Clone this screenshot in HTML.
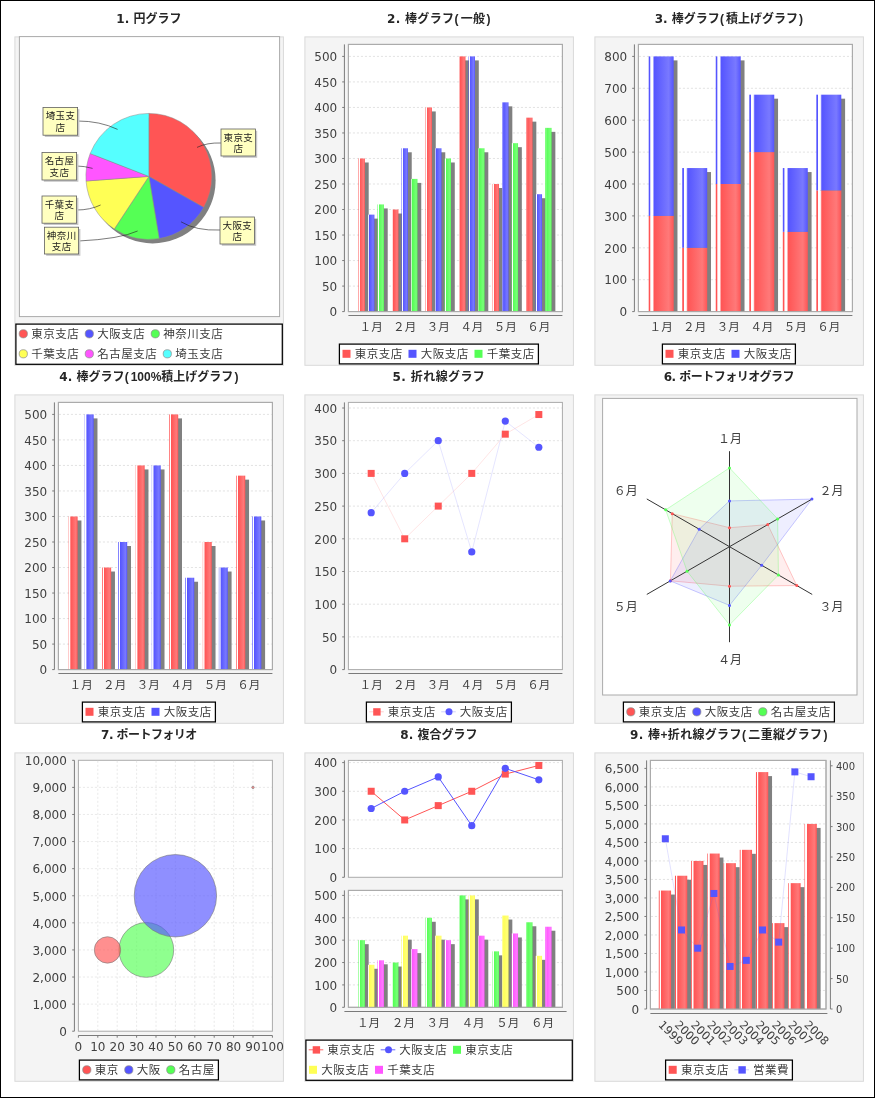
<!DOCTYPE html><html lang="ja"><head><meta charset="utf-8"><title>グラフ</title>
<style>html,body{margin:0;padding:0;background:#fff}svg{display:block}</style></head><body>
<svg width="875" height="1098" viewBox="0 0 875 1098">
<defs>
<linearGradient id="gR" x1="0" y1="0" x2="1" y2="0"><stop offset="0" stop-color="#ff5555"/><stop offset="0.05" stop-color="#ff5555"/><stop offset="0.08" stop-color="#fff"/><stop offset="0.16" stop-color="#fff"/><stop offset="0.22" stop-color="#ff5555"/><stop offset="0.8" stop-color="#ff7979"/><stop offset="1" stop-color="#ff5555"/></linearGradient>
<linearGradient id="gB" x1="0" y1="0" x2="1" y2="0"><stop offset="0" stop-color="#5555ff"/><stop offset="0.05" stop-color="#5555ff"/><stop offset="0.08" stop-color="#fff"/><stop offset="0.16" stop-color="#fff"/><stop offset="0.22" stop-color="#5555ff"/><stop offset="0.8" stop-color="#7979ff"/><stop offset="1" stop-color="#5555ff"/></linearGradient>
<linearGradient id="gG" x1="0" y1="0" x2="1" y2="0"><stop offset="0" stop-color="#55ff55"/><stop offset="0.05" stop-color="#55ff55"/><stop offset="0.08" stop-color="#fff"/><stop offset="0.16" stop-color="#fff"/><stop offset="0.22" stop-color="#55ff55"/><stop offset="0.8" stop-color="#79ff79"/><stop offset="1" stop-color="#55ff55"/></linearGradient>
<linearGradient id="gY" x1="0" y1="0" x2="1" y2="0"><stop offset="0" stop-color="#ffff55"/><stop offset="0.05" stop-color="#ffff55"/><stop offset="0.08" stop-color="#fff"/><stop offset="0.16" stop-color="#fff"/><stop offset="0.22" stop-color="#ffff55"/><stop offset="0.8" stop-color="#ffff79"/><stop offset="1" stop-color="#ffff55"/></linearGradient>
<linearGradient id="gM" x1="0" y1="0" x2="1" y2="0"><stop offset="0" stop-color="#ff55ff"/><stop offset="0.05" stop-color="#ff55ff"/><stop offset="0.08" stop-color="#fff"/><stop offset="0.16" stop-color="#fff"/><stop offset="0.22" stop-color="#ff55ff"/><stop offset="0.8" stop-color="#ff79ff"/><stop offset="1" stop-color="#ff55ff"/></linearGradient>
</defs>
<rect x="0" y="0" width="875" height="1098" fill="#fff"/>
<rect x="14.9" y="36.9" width="268.5" height="328.4" fill="#f4f4f4" stroke="#d9d9d9" stroke-width="1"/>
<text x="148.9" y="23.4" text-anchor="middle" font-family="DejaVu Sans, Noto Sans CJK JP, sans-serif" font-size="12" font-weight="bold" fill="#262626">1. 円グラフ</text>
<rect x="19.4" y="36.6" width="260.2" height="280" fill="#fff" stroke="#aaaaaa" stroke-width="1"/>
<circle cx="152.6" cy="180.4" r="63" fill="#808080"/>
<path d="M148.9 176.4L148.9 113.4A63 63 0 0 1 203.73 207.42Z" fill="#ff5555" stroke="#8a8a8a" stroke-width="0.5"/>
<path d="M148.9 176.4L203.73 207.42A63 63 0 0 1 159.19 238.55Z" fill="#5555ff" stroke="#8a8a8a" stroke-width="0.5"/>
<path d="M148.9 176.4L159.19 238.55A63 63 0 0 1 114.31 229.06Z" fill="#55ff55" stroke="#8a8a8a" stroke-width="0.5"/>
<path d="M148.9 176.4L114.31 229.06A63 63 0 0 1 86.07 181.01Z" fill="#ffff55" stroke="#8a8a8a" stroke-width="0.5"/>
<path d="M148.9 176.4L86.07 181.01A63 63 0 0 1 90.2 153.52Z" fill="#ff55ff" stroke="#8a8a8a" stroke-width="0.5"/>
<path d="M148.9 176.4L90.2 153.52A63 63 0 0 1 148.9 113.4Z" fill="#55ffff" stroke="#8a8a8a" stroke-width="0.5"/>
<path d="M221 143Q207 142.5 197 147.4" fill="none" stroke="#222" stroke-width="0.6"/>
<path d="M220 230Q196 231 181 221.8" fill="none" stroke="#222" stroke-width="0.6"/>
<path d="M78.6 241Q120 239 137.6 231" fill="none" stroke="#222" stroke-width="0.6"/>
<path d="M76.6 210Q90 210 100.6 205" fill="none" stroke="#222" stroke-width="0.6"/>
<path d="M76.6 166Q84 166 92.6 168.4" fill="none" stroke="#222" stroke-width="0.6"/>
<path d="M77.6 121Q100 121 117.6 129.4" fill="none" stroke="#222" stroke-width="0.6"/>
<rect x="222.8" y="130.8" width="34.4" height="27" fill="#c8c8c8"/>
<rect x="221" y="129" width="34.4" height="27" fill="#ffffc0" stroke="#606060" stroke-width="0.8"/>
<text x="238.4" y="140.6" text-anchor="middle" font-family="Liberation Sans, Noto Sans CJK JP, sans-serif" font-size="9.5" letter-spacing="0.4" fill="#1a1a1a">東京支</text>
<text x="238.4" y="152.2" text-anchor="middle" font-family="Liberation Sans, Noto Sans CJK JP, sans-serif" font-size="9.5" letter-spacing="0.4" fill="#1a1a1a">店</text>
<rect x="221.8" y="218.8" width="34.4" height="27" fill="#c8c8c8"/>
<rect x="220" y="217" width="34.4" height="27" fill="#ffffc0" stroke="#606060" stroke-width="0.8"/>
<text x="237.4" y="228.6" text-anchor="middle" font-family="Liberation Sans, Noto Sans CJK JP, sans-serif" font-size="9.5" letter-spacing="0.4" fill="#1a1a1a">大阪支</text>
<text x="237.4" y="240.2" text-anchor="middle" font-family="Liberation Sans, Noto Sans CJK JP, sans-serif" font-size="9.5" letter-spacing="0.4" fill="#1a1a1a">店</text>
<rect x="46.2" y="229" width="34.2" height="26.8" fill="#c8c8c8"/>
<rect x="44.4" y="227.2" width="34.2" height="26.8" fill="#ffffc0" stroke="#606060" stroke-width="0.8"/>
<text x="61.7" y="238.8" text-anchor="middle" font-family="Liberation Sans, Noto Sans CJK JP, sans-serif" font-size="9.5" letter-spacing="0.4" fill="#1a1a1a">神奈川</text>
<text x="61.7" y="250.4" text-anchor="middle" font-family="Liberation Sans, Noto Sans CJK JP, sans-serif" font-size="9.5" letter-spacing="0.4" fill="#1a1a1a">支店</text>
<rect x="43.8" y="197.8" width="34.6" height="27.2" fill="#c8c8c8"/>
<rect x="42" y="196" width="34.6" height="27.2" fill="#ffffc0" stroke="#606060" stroke-width="0.8"/>
<text x="59.5" y="207.6" text-anchor="middle" font-family="Liberation Sans, Noto Sans CJK JP, sans-serif" font-size="9.5" letter-spacing="0.4" fill="#1a1a1a">千葉支</text>
<text x="59.5" y="219.2" text-anchor="middle" font-family="Liberation Sans, Noto Sans CJK JP, sans-serif" font-size="9.5" letter-spacing="0.4" fill="#1a1a1a">店</text>
<rect x="43.8" y="154.2" width="34.6" height="27.6" fill="#c8c8c8"/>
<rect x="42" y="152.4" width="34.6" height="27.6" fill="#ffffc0" stroke="#606060" stroke-width="0.8"/>
<text x="59.5" y="164" text-anchor="middle" font-family="Liberation Sans, Noto Sans CJK JP, sans-serif" font-size="9.5" letter-spacing="0.4" fill="#1a1a1a">名古屋</text>
<text x="59.5" y="175.6" text-anchor="middle" font-family="Liberation Sans, Noto Sans CJK JP, sans-serif" font-size="9.5" letter-spacing="0.4" fill="#1a1a1a">支店</text>
<rect x="44.8" y="109.2" width="34.6" height="27.8" fill="#c8c8c8"/>
<rect x="43" y="107.4" width="34.6" height="27.8" fill="#ffffc0" stroke="#606060" stroke-width="0.8"/>
<text x="60.5" y="119" text-anchor="middle" font-family="Liberation Sans, Noto Sans CJK JP, sans-serif" font-size="9.5" letter-spacing="0.4" fill="#1a1a1a">埼玉支</text>
<text x="60.5" y="130.6" text-anchor="middle" font-family="Liberation Sans, Noto Sans CJK JP, sans-serif" font-size="9.5" letter-spacing="0.4" fill="#1a1a1a">店</text>
<rect x="15.9" y="324.1" width="266.4" height="40.2" fill="#fff" stroke="#000" stroke-width="1.25"/>
<circle cx="23.3" cy="333.8" r="4.1" fill="#ff5555" stroke="#8a8a8a" stroke-width="0.7"/>
<text x="31.3" y="338.2" font-family="Liberation Sans, Noto Sans CJK JP, sans-serif" font-size="11.5" letter-spacing="0.5" fill="#3a3a3a">東京支店</text>
<circle cx="89.3" cy="333.8" r="4.1" fill="#5555ff" stroke="#8a8a8a" stroke-width="0.7"/>
<text x="97.3" y="338.2" font-family="Liberation Sans, Noto Sans CJK JP, sans-serif" font-size="11.5" letter-spacing="0.5" fill="#3a3a3a">大阪支店</text>
<circle cx="155.3" cy="333.8" r="4.1" fill="#55ff55" stroke="#8a8a8a" stroke-width="0.7"/>
<text x="163.3" y="338.2" font-family="Liberation Sans, Noto Sans CJK JP, sans-serif" font-size="11.5" letter-spacing="0.5" fill="#3a3a3a">神奈川支店</text>
<circle cx="23.3" cy="353.8" r="4.1" fill="#ffff55" stroke="#8a8a8a" stroke-width="0.7"/>
<text x="31.3" y="358.2" font-family="Liberation Sans, Noto Sans CJK JP, sans-serif" font-size="11.5" letter-spacing="0.5" fill="#3a3a3a">千葉支店</text>
<circle cx="89.3" cy="353.8" r="4.1" fill="#ff55ff" stroke="#8a8a8a" stroke-width="0.7"/>
<text x="97.3" y="358.2" font-family="Liberation Sans, Noto Sans CJK JP, sans-serif" font-size="11.5" letter-spacing="0.5" fill="#3a3a3a">名古屋支店</text>
<circle cx="167.3" cy="353.8" r="4.1" fill="#55ffff" stroke="#8a8a8a" stroke-width="0.7"/>
<text x="175.3" y="358.2" font-family="Liberation Sans, Noto Sans CJK JP, sans-serif" font-size="11.5" letter-spacing="0.5" fill="#3a3a3a">埼玉支店</text>
<rect x="304.9" y="36.9" width="268.5" height="328.4" fill="#f4f4f4" stroke="#d9d9d9" stroke-width="1"/>
<text x="438.9" y="23.4" text-anchor="middle" font-family="DejaVu Sans, Noto Sans CJK JP, sans-serif" font-size="12" font-weight="bold" fill="#262626" letter-spacing="0.3">2. 棒グラフ<tspan dx="0.3" font-family="Liberation Sans, sans-serif">(</tspan><tspan dx="1.9">一</tspan>般<tspan dx="1.1" font-family="Liberation Sans, sans-serif">)</tspan></text>
<rect x="348.4" y="44.4" width="214" height="267.2" fill="#fff" stroke="#aaaaaa" stroke-width="1"/>
<path d="M348.9 286.08H561.9M348.9 260.56H561.9M348.9 235.04H561.9M348.9 209.52H561.9M348.9 184H561.9M348.9 158.48H561.9M348.9 132.96H561.9M348.9 107.44H561.9M348.9 81.92H561.9M348.9 56.4H561.9" stroke="#dcdcdc" stroke-width="0.8" stroke-dasharray="2.1 1.9" fill="none"/>
<rect x="362.3" y="162.48" width="6.4" height="149.12" fill="#808080"/>
<rect x="358.5" y="158.48" width="6.4" height="153.12" fill="url(#gR)"/>
<rect x="371.81" y="218.62" width="6.4" height="92.98" fill="#808080"/>
<rect x="368.01" y="214.62" width="6.4" height="96.98" fill="url(#gB)"/>
<rect x="381.32" y="208.42" width="6.4" height="103.18" fill="#808080"/>
<rect x="377.52" y="204.42" width="6.4" height="107.18" fill="url(#gG)"/>
<rect x="395.83" y="213.52" width="6.4" height="98.08" fill="#808080"/>
<rect x="392.03" y="209.52" width="6.4" height="102.08" fill="url(#gR)"/>
<rect x="405.34" y="152.27" width="6.4" height="159.33" fill="#808080"/>
<rect x="401.54" y="148.27" width="6.4" height="163.33" fill="url(#gB)"/>
<rect x="414.85" y="182.9" width="6.4" height="128.7" fill="#808080"/>
<rect x="411.05" y="178.9" width="6.4" height="132.7" fill="url(#gG)"/>
<rect x="429.35" y="111.44" width="6.4" height="200.16" fill="#808080"/>
<rect x="425.55" y="107.44" width="6.4" height="204.16" fill="url(#gR)"/>
<rect x="438.86" y="152.27" width="6.4" height="159.33" fill="#808080"/>
<rect x="435.06" y="148.27" width="6.4" height="163.33" fill="url(#gB)"/>
<rect x="448.38" y="162.48" width="6.4" height="149.12" fill="#808080"/>
<rect x="444.58" y="158.48" width="6.4" height="153.12" fill="url(#gG)"/>
<rect x="462.88" y="60.4" width="6.4" height="251.2" fill="#808080"/>
<rect x="459.08" y="56.4" width="6.4" height="255.2" fill="url(#gR)"/>
<rect x="472.39" y="60.4" width="6.4" height="251.2" fill="#808080"/>
<rect x="468.59" y="56.4" width="6.4" height="255.2" fill="url(#gB)"/>
<rect x="481.9" y="152.27" width="6.4" height="159.33" fill="#808080"/>
<rect x="478.1" y="148.27" width="6.4" height="163.33" fill="url(#gG)"/>
<rect x="496.41" y="188" width="6.4" height="123.6" fill="#808080"/>
<rect x="492.61" y="184" width="6.4" height="127.6" fill="url(#gR)"/>
<rect x="505.92" y="106.34" width="6.4" height="205.26" fill="#808080"/>
<rect x="502.12" y="102.34" width="6.4" height="209.26" fill="url(#gB)"/>
<rect x="515.43" y="147.17" width="6.4" height="164.43" fill="#808080"/>
<rect x="511.63" y="143.17" width="6.4" height="168.43" fill="url(#gG)"/>
<rect x="529.93" y="121.65" width="6.4" height="189.95" fill="#808080"/>
<rect x="526.13" y="117.65" width="6.4" height="193.95" fill="url(#gR)"/>
<rect x="539.44" y="198.21" width="6.4" height="113.39" fill="#808080"/>
<rect x="535.64" y="194.21" width="6.4" height="117.39" fill="url(#gB)"/>
<rect x="548.96" y="131.86" width="6.4" height="179.74" fill="#808080"/>
<rect x="545.16" y="127.86" width="6.4" height="183.74" fill="url(#gG)"/>
<rect x="348.4" y="44.4" width="214" height="267.2" fill="none" stroke="#aaaaaa" stroke-width="1"/>
<path d="M344.4 44.4V311.6M344.4 311.6H342.2M344.4 286.08H342.2M344.4 260.56H342.2M344.4 235.04H342.2M344.4 209.52H342.2M344.4 184H342.2M344.4 158.48H342.2M344.4 132.96H342.2M344.4 107.44H342.2M344.4 81.92H342.2M344.4 56.4H342.2" stroke="#7a7a7a" stroke-width="1" fill="none"/>
<g font-family="DejaVu Sans, Liberation Sans, sans-serif" font-size="12" fill="#404040" text-anchor="end">
<text x="337.2" y="316.38">0</text>
<text x="337.2" y="290.86">50</text>
<text x="337.2" y="265.34">100</text>
<text x="337.2" y="239.82">150</text>
<text x="337.2" y="214.3">200</text>
<text x="337.2" y="188.78">250</text>
<text x="337.2" y="163.26">300</text>
<text x="337.2" y="137.74">350</text>
<text x="337.2" y="112.22">400</text>
<text x="337.2" y="86.7">450</text>
<text x="337.2" y="61.18">500</text>
</g>
<path d="M348.4 315.5H562.4" stroke="#7a7a7a" stroke-width="1" fill="none"/>
<g font-family="Liberation Sans, Noto Sans CJK JP, sans-serif" font-size="11.6" fill="#404040" text-anchor="middle">
<text x="371.18" y="330.8">１月</text>
<text x="404.71" y="330.8">２月</text>
<text x="438.24" y="330.8">３月</text>
<text x="471.76" y="330.8">４月</text>
<text x="505.29" y="330.8">５月</text>
<text x="538.82" y="330.8">６月</text>
</g>
<rect x="339.4" y="344.1" width="199" height="19.8" fill="#fff" stroke="#000" stroke-width="1.25"/>
<rect x="342.5" y="349.8" width="8" height="8" fill="#ff5555"/>
<text x="354.8" y="358.2" font-family="Liberation Sans, Noto Sans CJK JP, sans-serif" font-size="11.5" letter-spacing="0.5" fill="#3a3a3a">東京支店</text>
<rect x="408.5" y="349.8" width="8" height="8" fill="#5555ff"/>
<text x="420.8" y="358.2" font-family="Liberation Sans, Noto Sans CJK JP, sans-serif" font-size="11.5" letter-spacing="0.5" fill="#3a3a3a">大阪支店</text>
<rect x="474.5" y="349.8" width="8" height="8" fill="#55ff55"/>
<text x="486.8" y="358.2" font-family="Liberation Sans, Noto Sans CJK JP, sans-serif" font-size="11.5" letter-spacing="0.5" fill="#3a3a3a">千葉支店</text>
<rect x="594.9" y="36.9" width="268.5" height="328.4" fill="#f4f4f4" stroke="#d9d9d9" stroke-width="1"/>
<text x="728.9" y="23.4" text-anchor="middle" font-family="DejaVu Sans, Noto Sans CJK JP, sans-serif" font-size="12" font-weight="bold" fill="#262626">3. 棒グラフ<tspan dx="0.3" font-family="Liberation Sans, sans-serif">(</tspan><tspan dx="1.9">積</tspan>上げグラフ<tspan dx="1.1" font-family="Liberation Sans, sans-serif">)</tspan></text>
<rect x="638.4" y="44.4" width="214" height="267.2" fill="#fff" stroke="#aaaaaa" stroke-width="1"/>
<path d="M638.9 279.7H851.9M638.9 247.8H851.9M638.9 215.9H851.9M638.9 184H851.9M638.9 152.1H851.9M638.9 120.2H851.9M638.9 88.3H851.9M638.9 56.4H851.9" stroke="#dcdcdc" stroke-width="0.8" stroke-dasharray="2.1 1.9" fill="none"/>
<rect x="652.5" y="60.4" width="24.97" height="251.2" fill="#808080"/>
<rect x="648.7" y="215.9" width="24.97" height="95.7" fill="url(#gR)"/>
<rect x="648.7" y="56.4" width="24.97" height="159.5" fill="url(#gB)"/>
<rect x="686.03" y="172.05" width="24.97" height="139.55" fill="#808080"/>
<rect x="682.23" y="247.8" width="24.97" height="63.8" fill="url(#gR)"/>
<rect x="682.23" y="168.05" width="24.97" height="79.75" fill="url(#gB)"/>
<rect x="719.55" y="60.4" width="24.97" height="251.2" fill="#808080"/>
<rect x="715.75" y="184" width="24.97" height="127.6" fill="url(#gR)"/>
<rect x="715.75" y="56.4" width="24.97" height="127.6" fill="url(#gB)"/>
<rect x="753.08" y="98.68" width="24.97" height="212.92" fill="#808080"/>
<rect x="749.28" y="152.1" width="24.97" height="159.5" fill="url(#gR)"/>
<rect x="749.28" y="94.68" width="24.97" height="57.42" fill="url(#gB)"/>
<rect x="786.61" y="172.05" width="24.97" height="139.55" fill="#808080"/>
<rect x="782.81" y="231.85" width="24.97" height="79.75" fill="url(#gR)"/>
<rect x="782.81" y="168.05" width="24.97" height="63.8" fill="url(#gB)"/>
<rect x="820.13" y="98.68" width="24.97" height="212.92" fill="#808080"/>
<rect x="816.33" y="190.38" width="24.97" height="121.22" fill="url(#gR)"/>
<rect x="816.33" y="94.68" width="24.97" height="95.7" fill="url(#gB)"/>
<rect x="638.4" y="44.4" width="214" height="267.2" fill="none" stroke="#aaaaaa" stroke-width="1"/>
<path d="M634.4 44.4V311.6M634.4 311.6H632.2M634.4 279.7H632.2M634.4 247.8H632.2M634.4 215.9H632.2M634.4 184H632.2M634.4 152.1H632.2M634.4 120.2H632.2M634.4 88.3H632.2M634.4 56.4H632.2" stroke="#7a7a7a" stroke-width="1" fill="none"/>
<g font-family="DejaVu Sans, Liberation Sans, sans-serif" font-size="12" fill="#404040" text-anchor="end">
<text x="627.2" y="316.38">0</text>
<text x="627.2" y="284.48">100</text>
<text x="627.2" y="252.58">200</text>
<text x="627.2" y="220.68">300</text>
<text x="627.2" y="188.78">400</text>
<text x="627.2" y="156.88">500</text>
<text x="627.2" y="124.98">600</text>
<text x="627.2" y="93.08">700</text>
<text x="627.2" y="61.18">800</text>
</g>
<path d="M638.4 315.5H852.4" stroke="#7a7a7a" stroke-width="1" fill="none"/>
<g font-family="Liberation Sans, Noto Sans CJK JP, sans-serif" font-size="11.6" fill="#404040" text-anchor="middle">
<text x="661.18" y="330.8">１月</text>
<text x="694.71" y="330.8">２月</text>
<text x="728.24" y="330.8">３月</text>
<text x="761.76" y="330.8">４月</text>
<text x="795.29" y="330.8">５月</text>
<text x="828.82" y="330.8">６月</text>
</g>
<rect x="662.4" y="344.1" width="133" height="19.8" fill="#fff" stroke="#000" stroke-width="1.25"/>
<rect x="665.5" y="349.8" width="8" height="8" fill="#ff5555"/>
<text x="677.8" y="358.2" font-family="Liberation Sans, Noto Sans CJK JP, sans-serif" font-size="11.5" letter-spacing="0.5" fill="#3a3a3a">東京支店</text>
<rect x="731.5" y="349.8" width="8" height="8" fill="#5555ff"/>
<text x="743.8" y="358.2" font-family="Liberation Sans, Noto Sans CJK JP, sans-serif" font-size="11.5" letter-spacing="0.5" fill="#3a3a3a">大阪支店</text>
<rect x="14.9" y="394.9" width="268.5" height="328.4" fill="#f4f4f4" stroke="#d9d9d9" stroke-width="1"/>
<text x="148.9" y="381.4" text-anchor="middle" font-family="DejaVu Sans, Noto Sans CJK JP, sans-serif" font-size="12" font-weight="bold" fill="#262626">4. 棒グラフ<tspan dx="0.3" font-family="Liberation Sans, sans-serif">(</tspan><tspan dx="1.9" font-family="Liberation Sans, sans-serif">100%</tspan>積上げグラフ<tspan dx="1.1" font-family="Liberation Sans, sans-serif">)</tspan></text>
<rect x="58.4" y="402.4" width="214" height="267.2" fill="#fff" stroke="#aaaaaa" stroke-width="1"/>
<path d="M58.9 644.08H271.9M58.9 618.56H271.9M58.9 593.04H271.9M58.9 567.52H271.9M58.9 542H271.9M58.9 516.48H271.9M58.9 490.96H271.9M58.9 465.44H271.9M58.9 439.92H271.9M58.9 414.4H271.9" stroke="#dcdcdc" stroke-width="0.8" stroke-dasharray="2.1 1.9" fill="none"/>
<rect x="72.5" y="520.48" width="8.92" height="149.12" fill="#808080"/>
<rect x="68.7" y="516.48" width="8.92" height="153.12" fill="url(#gR)"/>
<rect x="88.55" y="418.4" width="8.92" height="251.2" fill="#808080"/>
<rect x="84.75" y="414.4" width="8.92" height="255.2" fill="url(#gB)"/>
<rect x="106.03" y="571.52" width="8.92" height="98.08" fill="#808080"/>
<rect x="102.23" y="567.52" width="8.92" height="102.08" fill="url(#gR)"/>
<rect x="122.08" y="546" width="8.92" height="123.6" fill="#808080"/>
<rect x="118.28" y="542" width="8.92" height="127.6" fill="url(#gB)"/>
<rect x="139.55" y="469.44" width="8.92" height="200.16" fill="#808080"/>
<rect x="135.75" y="465.44" width="8.92" height="204.16" fill="url(#gR)"/>
<rect x="155.6" y="469.44" width="8.92" height="200.16" fill="#808080"/>
<rect x="151.8" y="465.44" width="8.92" height="204.16" fill="url(#gB)"/>
<rect x="173.08" y="418.4" width="8.92" height="251.2" fill="#808080"/>
<rect x="169.28" y="414.4" width="8.92" height="255.2" fill="url(#gR)"/>
<rect x="189.13" y="581.73" width="8.92" height="87.87" fill="#808080"/>
<rect x="185.33" y="577.73" width="8.92" height="91.87" fill="url(#gB)"/>
<rect x="206.61" y="546" width="8.92" height="123.6" fill="#808080"/>
<rect x="202.81" y="542" width="8.92" height="127.6" fill="url(#gR)"/>
<rect x="222.66" y="571.52" width="8.92" height="98.08" fill="#808080"/>
<rect x="218.86" y="567.52" width="8.92" height="102.08" fill="url(#gB)"/>
<rect x="240.13" y="479.65" width="8.92" height="189.95" fill="#808080"/>
<rect x="236.33" y="475.65" width="8.92" height="193.95" fill="url(#gR)"/>
<rect x="256.18" y="520.48" width="8.92" height="149.12" fill="#808080"/>
<rect x="252.38" y="516.48" width="8.92" height="153.12" fill="url(#gB)"/>
<rect x="58.4" y="402.4" width="214" height="267.2" fill="none" stroke="#aaaaaa" stroke-width="1"/>
<path d="M54.4 402.4V669.6M54.4 669.6H52.2M54.4 644.08H52.2M54.4 618.56H52.2M54.4 593.04H52.2M54.4 567.52H52.2M54.4 542H52.2M54.4 516.48H52.2M54.4 490.96H52.2M54.4 465.44H52.2M54.4 439.92H52.2M54.4 414.4H52.2" stroke="#7a7a7a" stroke-width="1" fill="none"/>
<g font-family="DejaVu Sans, Liberation Sans, sans-serif" font-size="12" fill="#404040" text-anchor="end">
<text x="47.2" y="674.38">0</text>
<text x="47.2" y="648.86">50</text>
<text x="47.2" y="623.34">100</text>
<text x="47.2" y="597.82">150</text>
<text x="47.2" y="572.3">200</text>
<text x="47.2" y="546.78">250</text>
<text x="47.2" y="521.26">300</text>
<text x="47.2" y="495.74">350</text>
<text x="47.2" y="470.22">400</text>
<text x="47.2" y="444.7">450</text>
<text x="47.2" y="419.18">500</text>
</g>
<path d="M58.4 673.5H272.4" stroke="#7a7a7a" stroke-width="1" fill="none"/>
<g font-family="Liberation Sans, Noto Sans CJK JP, sans-serif" font-size="11.6" fill="#404040" text-anchor="middle">
<text x="81.18" y="688.8">１月</text>
<text x="114.71" y="688.8">２月</text>
<text x="148.24" y="688.8">３月</text>
<text x="181.76" y="688.8">４月</text>
<text x="215.29" y="688.8">５月</text>
<text x="248.82" y="688.8">６月</text>
</g>
<rect x="82.4" y="702.1" width="133" height="19.8" fill="#fff" stroke="#000" stroke-width="1.25"/>
<rect x="85.5" y="707.8" width="8" height="8" fill="#ff5555"/>
<text x="97.8" y="716.2" font-family="Liberation Sans, Noto Sans CJK JP, sans-serif" font-size="11.5" letter-spacing="0.5" fill="#3a3a3a">東京支店</text>
<rect x="151.5" y="707.8" width="8" height="8" fill="#5555ff"/>
<text x="163.8" y="716.2" font-family="Liberation Sans, Noto Sans CJK JP, sans-serif" font-size="11.5" letter-spacing="0.5" fill="#3a3a3a">大阪支店</text>
<rect x="304.9" y="394.9" width="268.5" height="328.4" fill="#f4f4f4" stroke="#d9d9d9" stroke-width="1"/>
<text x="438.9" y="381.4" text-anchor="middle" font-family="DejaVu Sans, Noto Sans CJK JP, sans-serif" font-size="12" font-weight="bold" fill="#262626" letter-spacing="0.4">5. 折れ線グラフ</text>
<rect x="348.4" y="402.4" width="214" height="267.2" fill="#fff" stroke="#aaaaaa" stroke-width="1"/>
<path d="M348.9 636.9H561.9M348.9 604.2H561.9M348.9 571.5H561.9M348.9 538.8H561.9M348.9 506.1H561.9M348.9 473.4H561.9M348.9 440.7H561.9M348.9 408H561.9" stroke="#dcdcdc" stroke-width="0.8" stroke-dasharray="2.1 1.9" fill="none"/>
<polyline points="371.18,473.4 404.71,538.8 438.24,506.1 471.76,473.4 505.29,434.16 538.82,414.54" fill="none" stroke="#ff5555" stroke-width="0.7" opacity="0.22"/>
<polyline points="371.18,512.64 404.71,473.4 438.24,440.7 471.76,551.88 505.29,421.08 538.82,447.24" fill="none" stroke="#5555ff" stroke-width="0.7" opacity="0.22"/>
<rect x="367.68" y="469.9" width="7" height="7" fill="#ff5555"/>
<rect x="401.21" y="535.3" width="7" height="7" fill="#ff5555"/>
<rect x="434.74" y="502.6" width="7" height="7" fill="#ff5555"/>
<rect x="468.26" y="469.9" width="7" height="7" fill="#ff5555"/>
<rect x="501.79" y="430.66" width="7" height="7" fill="#ff5555"/>
<rect x="535.32" y="411.04" width="7" height="7" fill="#ff5555"/>
<circle cx="371.18" cy="512.64" r="3.6" fill="#5555ff"/>
<circle cx="404.71" cy="473.4" r="3.6" fill="#5555ff"/>
<circle cx="438.24" cy="440.7" r="3.6" fill="#5555ff"/>
<circle cx="471.76" cy="551.88" r="3.6" fill="#5555ff"/>
<circle cx="505.29" cy="421.08" r="3.6" fill="#5555ff"/>
<circle cx="538.82" cy="447.24" r="3.6" fill="#5555ff"/>
<path d="M344.4 402.4V669.6M344.4 669.6H342.2M344.4 636.9H342.2M344.4 604.2H342.2M344.4 571.5H342.2M344.4 538.8H342.2M344.4 506.1H342.2M344.4 473.4H342.2M344.4 440.7H342.2M344.4 408H342.2" stroke="#7a7a7a" stroke-width="1" fill="none"/>
<g font-family="DejaVu Sans, Liberation Sans, sans-serif" font-size="12" fill="#404040" text-anchor="end">
<text x="337.2" y="674.38">0</text>
<text x="337.2" y="641.68">50</text>
<text x="337.2" y="608.98">100</text>
<text x="337.2" y="576.28">150</text>
<text x="337.2" y="543.58">200</text>
<text x="337.2" y="510.88">250</text>
<text x="337.2" y="478.18">300</text>
<text x="337.2" y="445.48">350</text>
<text x="337.2" y="412.78">400</text>
</g>
<path d="M348.4 673.5H562.4" stroke="#7a7a7a" stroke-width="1" fill="none"/>
<g font-family="Liberation Sans, Noto Sans CJK JP, sans-serif" font-size="11.6" fill="#404040" text-anchor="middle">
<text x="371.18" y="688.8">１月</text>
<text x="404.71" y="688.8">２月</text>
<text x="438.24" y="688.8">３月</text>
<text x="471.76" y="688.8">４月</text>
<text x="505.29" y="688.8">５月</text>
<text x="538.82" y="688.8">６月</text>
</g>
<rect x="366.4" y="702.1" width="145" height="19.8" fill="#fff" stroke="#000" stroke-width="1.25"/>
<path d="M369.2 711.8H383.8" stroke="#ff5555" stroke-width="0.8" opacity="0.35"/>
<rect x="373.2" y="708.2" width="7.4" height="7.4" fill="#ff5555"/>
<text x="387.8" y="716.2" font-family="Liberation Sans, Noto Sans CJK JP, sans-serif" font-size="11.5" letter-spacing="0.5" fill="#3a3a3a">東京支店</text>
<path d="M441.2 711.8H455.8" stroke="#5555ff" stroke-width="0.8" opacity="0.35"/>
<circle cx="449" cy="711.8" r="3.5" fill="#5555ff"/>
<text x="459.8" y="716.2" font-family="Liberation Sans, Noto Sans CJK JP, sans-serif" font-size="11.5" letter-spacing="0.5" fill="#3a3a3a">大阪支店</text>
<rect x="594.9" y="394.9" width="268.5" height="328.4" fill="#f4f4f4" stroke="#d9d9d9" stroke-width="1"/>
<text x="728.9" y="381.4" text-anchor="middle" font-family="DejaVu Sans, Noto Sans CJK JP, sans-serif" font-size="12" font-weight="bold" fill="#262626" letter-spacing="-0.5">6. ポートフォリオグラフ</text>
<rect x="602.6" y="398.4" width="254.4" height="296.6" fill="#fff" stroke="#aaaaaa" stroke-width="1"/>
<polygon points="729.5,527.7 767.78,524.6 796.79,585.55 729.5,586.2 670.44,580.8 672.26,513.65" fill="#ff5555" fill-opacity="0.1" stroke="#ff5555" stroke-opacity="0.45" stroke-width="0.7"/>
<polygon points="729.5,500.9 811.95,499.1 761.72,565.3 729.5,605.4 670.26,580.9 699.19,529.2" fill="#5555ff" fill-opacity="0.1" stroke="#5555ff" stroke-opacity="0.45" stroke-width="0.7"/>
<polygon points="729.5,467.9 777.65,518.9 778.43,574.95 729.5,624.9 687.06,571.2 665.67,509.85" fill="#55ff55" fill-opacity="0.1" stroke="#55ff55" stroke-opacity="0.45" stroke-width="0.7"/>
<path d="M729.5 546.7L729.5 451.2M729.5 546.7L812.21 498.95M729.5 546.7L812.21 594.45M729.5 546.7L729.5 642.2M729.5 546.7L646.79 594.45M729.5 546.7L646.79 498.95" stroke="#333" stroke-width="1" fill="none"/>
<circle cx="729.5" cy="527.7" r="1.5" fill="#ff5555"/>
<circle cx="767.78" cy="524.6" r="1.5" fill="#ff5555"/>
<circle cx="796.79" cy="585.55" r="1.5" fill="#ff5555"/>
<circle cx="729.5" cy="586.2" r="1.5" fill="#ff5555"/>
<circle cx="670.44" cy="580.8" r="1.5" fill="#ff5555"/>
<circle cx="672.26" cy="513.65" r="1.5" fill="#ff5555"/>
<circle cx="729.5" cy="500.9" r="1.5" fill="#5555ff"/>
<circle cx="811.95" cy="499.1" r="1.5" fill="#5555ff"/>
<circle cx="761.72" cy="565.3" r="1.5" fill="#5555ff"/>
<circle cx="729.5" cy="605.4" r="1.5" fill="#5555ff"/>
<circle cx="670.26" cy="580.9" r="1.5" fill="#5555ff"/>
<circle cx="699.19" cy="529.2" r="1.5" fill="#5555ff"/>
<circle cx="729.5" cy="467.9" r="1.5" fill="#55ff55"/>
<circle cx="777.65" cy="518.9" r="1.5" fill="#55ff55"/>
<circle cx="778.43" cy="574.95" r="1.5" fill="#55ff55"/>
<circle cx="729.5" cy="624.9" r="1.5" fill="#55ff55"/>
<circle cx="687.06" cy="571.2" r="1.5" fill="#55ff55"/>
<circle cx="665.67" cy="509.85" r="1.5" fill="#55ff55"/>
<g font-family="Liberation Sans, Noto Sans CJK JP, sans-serif" font-size="12" fill="#404040">
<text x="730" y="443.2" text-anchor="middle">１月</text>
<text x="831.4" y="495.4" text-anchor="middle">２月</text>
<text x="831.4" y="611.2" text-anchor="middle">３月</text>
<text x="730" y="663.8" text-anchor="middle">４月</text>
<text x="625.8" y="611.2" text-anchor="middle">５月</text>
<text x="625.8" y="495.4" text-anchor="middle">６月</text>
</g>
<rect x="623.4" y="702.1" width="211" height="19.8" fill="#fff" stroke="#000" stroke-width="1.25"/>
<circle cx="630.8" cy="711.8" r="4.1" fill="#ff5555" stroke="#8a8a8a" stroke-width="0.7"/>
<text x="638.8" y="716.2" font-family="Liberation Sans, Noto Sans CJK JP, sans-serif" font-size="11.5" letter-spacing="0.5" fill="#3a3a3a">東京支店</text>
<circle cx="696.8" cy="711.8" r="4.1" fill="#5555ff" stroke="#8a8a8a" stroke-width="0.7"/>
<text x="704.8" y="716.2" font-family="Liberation Sans, Noto Sans CJK JP, sans-serif" font-size="11.5" letter-spacing="0.5" fill="#3a3a3a">大阪支店</text>
<circle cx="762.8" cy="711.8" r="4.1" fill="#55ff55" stroke="#8a8a8a" stroke-width="0.7"/>
<text x="770.8" y="716.2" font-family="Liberation Sans, Noto Sans CJK JP, sans-serif" font-size="11.5" letter-spacing="0.5" fill="#3a3a3a">名古屋支店</text>
<rect x="14.9" y="752.9" width="268.5" height="328.4" fill="#f4f4f4" stroke="#d9d9d9" stroke-width="1"/>
<text x="148.9" y="739.4" text-anchor="middle" font-family="DejaVu Sans, Noto Sans CJK JP, sans-serif" font-size="12" font-weight="bold" fill="#262626" letter-spacing="-0.55">7. ポートフォリオ</text>
<rect x="78.4" y="760.3" width="194" height="270.9" fill="#fff" stroke="#aaaaaa" stroke-width="1"/>
<path d="M78.9 1004.11H271.9M78.9 977.02H271.9M78.9 949.93H271.9M78.9 922.84H271.9M78.9 895.75H271.9M78.9 868.66H271.9M78.9 841.57H271.9M78.9 814.48H271.9M78.9 787.39H271.9" stroke="#e4e4e4" stroke-width="0.8" stroke-dasharray="2.1 1.9" fill="none"/>
<path d="M97.8 760.8V1030.7M117.2 760.8V1030.7M136.6 760.8V1030.7M156 760.8V1030.7M175.4 760.8V1030.7M194.8 760.8V1030.7M214.2 760.8V1030.7M233.6 760.8V1030.7M253 760.8V1030.7" stroke="#e4e4e4" stroke-width="0.8" stroke-dasharray="2.1 1.9" fill="none"/>
<circle cx="146.3" cy="949.93" r="27.4" fill="#55ff55" fill-opacity="0.66" stroke="#777" stroke-width="0.6"/>
<circle cx="175.4" cy="895.75" r="41.2" fill="#5555ff" fill-opacity="0.66" stroke="#777" stroke-width="0.6"/>
<circle cx="107.5" cy="949.93" r="13.2" fill="#ff5555" fill-opacity="0.66" stroke="#777" stroke-width="0.6"/>
<circle cx="253" cy="787.39" r="1.2" fill="#ff5555" fill-opacity="0.66" stroke="#777" stroke-width="0.6"/>
<path d="M74.4 760.3V1031.2M74.4 1031.2H72.2M74.4 1004.11H72.2M74.4 977.02H72.2M74.4 949.93H72.2M74.4 922.84H72.2M74.4 895.75H72.2M74.4 868.66H72.2M74.4 841.57H72.2M74.4 814.48H72.2M74.4 787.39H72.2M74.4 760.3H72.2" stroke="#7a7a7a" stroke-width="1" fill="none"/>
<g font-family="DejaVu Sans, Liberation Sans, sans-serif" font-size="12" fill="#404040" text-anchor="end">
<text x="66.8" y="1035.98">0</text>
<text x="66.8" y="1008.89">1,000</text>
<text x="66.8" y="981.8">2,000</text>
<text x="66.8" y="954.71">3,000</text>
<text x="66.8" y="927.62">4,000</text>
<text x="66.8" y="900.53">5,000</text>
<text x="66.8" y="873.44">6,000</text>
<text x="66.8" y="846.35">7,000</text>
<text x="66.8" y="819.26">8,000</text>
<text x="66.8" y="792.17">9,000</text>
<text x="66.8" y="765.08">10,000</text>
</g>
<path d="M78.4 1035.5H272.4M78.4 1035.5V1037.7M97.8 1035.5V1037.7M117.2 1035.5V1037.7M136.6 1035.5V1037.7M156 1035.5V1037.7M175.4 1035.5V1037.7M194.8 1035.5V1037.7M214.2 1035.5V1037.7M233.6 1035.5V1037.7M253 1035.5V1037.7M272.4 1035.5V1037.7" stroke="#7a7a7a" stroke-width="1" fill="none"/>
<g font-family="DejaVu Sans, Liberation Sans, sans-serif" font-size="12" fill="#404040" text-anchor="middle">
<text x="78.4" y="1051">0</text>
<text x="97.8" y="1051">10</text>
<text x="117.2" y="1051">20</text>
<text x="136.6" y="1051">30</text>
<text x="156" y="1051">40</text>
<text x="175.4" y="1051">50</text>
<text x="194.8" y="1051">60</text>
<text x="214.2" y="1051">70</text>
<text x="233.6" y="1051">80</text>
<text x="253" y="1051">90</text>
<text x="272.4" y="1051">100</text>
</g>
<rect x="79.4" y="1060.1" width="139" height="19.8" fill="#fff" stroke="#000" stroke-width="1.25"/>
<circle cx="86.8" cy="1069.8" r="4.1" fill="#ff5555" stroke="#8a8a8a" stroke-width="0.7"/>
<text x="94.8" y="1074.2" font-family="Liberation Sans, Noto Sans CJK JP, sans-serif" font-size="11.5" letter-spacing="0.5" fill="#3a3a3a">東京</text>
<circle cx="128.8" cy="1069.8" r="4.1" fill="#5555ff" stroke="#8a8a8a" stroke-width="0.7"/>
<text x="136.8" y="1074.2" font-family="Liberation Sans, Noto Sans CJK JP, sans-serif" font-size="11.5" letter-spacing="0.5" fill="#3a3a3a">大阪</text>
<circle cx="170.8" cy="1069.8" r="4.1" fill="#55ff55" stroke="#8a8a8a" stroke-width="0.7"/>
<text x="178.8" y="1074.2" font-family="Liberation Sans, Noto Sans CJK JP, sans-serif" font-size="11.5" letter-spacing="0.5" fill="#3a3a3a">名古屋</text>
<rect x="304.9" y="752.9" width="268.5" height="328.4" fill="#f4f4f4" stroke="#d9d9d9" stroke-width="1"/>
<text x="438.9" y="739.4" text-anchor="middle" font-family="DejaVu Sans, Noto Sans CJK JP, sans-serif" font-size="12" font-weight="bold" fill="#262626">8. 複合グラフ</text>
<rect x="348.4" y="760.4" width="214" height="116.9" fill="#fff" stroke="#aaaaaa" stroke-width="1"/>
<path d="M348.9 848.62H561.9M348.9 819.95H561.9M348.9 791.27H561.9M348.9 762.6H561.9" stroke="#dcdcdc" stroke-width="0.8" stroke-dasharray="2.1 1.9" fill="none"/>
<polyline points="371.18,791.27 404.71,819.95 438.24,805.61 471.76,791.27 505.29,774.07 538.82,765.47" fill="none" stroke="#ff5555" stroke-width="1"/>
<polyline points="371.18,808.48 404.71,791.27 438.24,776.94 471.76,825.68 505.29,768.34 538.82,779.81" fill="none" stroke="#5555ff" stroke-width="1"/>
<rect x="367.68" y="787.77" width="7" height="7" fill="#ff5555"/>
<rect x="401.21" y="816.45" width="7" height="7" fill="#ff5555"/>
<rect x="434.74" y="802.11" width="7" height="7" fill="#ff5555"/>
<rect x="468.26" y="787.77" width="7" height="7" fill="#ff5555"/>
<rect x="501.79" y="770.57" width="7" height="7" fill="#ff5555"/>
<rect x="535.32" y="761.97" width="7" height="7" fill="#ff5555"/>
<circle cx="371.18" cy="808.48" r="3.6" fill="#5555ff"/>
<circle cx="404.71" cy="791.27" r="3.6" fill="#5555ff"/>
<circle cx="438.24" cy="776.94" r="3.6" fill="#5555ff"/>
<circle cx="471.76" cy="825.68" r="3.6" fill="#5555ff"/>
<circle cx="505.29" cy="768.34" r="3.6" fill="#5555ff"/>
<circle cx="538.82" cy="779.81" r="3.6" fill="#5555ff"/>
<path d="M344.4 760.4V877.3M344.4 877.3H342.2M344.4 848.62H342.2M344.4 819.95H342.2M344.4 791.27H342.2M344.4 762.6H342.2" stroke="#7a7a7a" stroke-width="1" fill="none"/>
<g font-family="DejaVu Sans, Liberation Sans, sans-serif" font-size="12" fill="#404040" text-anchor="end">
<text x="337.2" y="882.08">0</text>
<text x="337.2" y="853.4">100</text>
<text x="337.2" y="824.73">200</text>
<text x="337.2" y="796.05">300</text>
<text x="337.2" y="767.38">400</text>
</g>
<rect x="348.4" y="890.4" width="214" height="116.9" fill="#fff" stroke="#aaaaaa" stroke-width="1"/>
<path d="M348.9 984.92H561.9M348.9 962.54H561.9M348.9 940.16H561.9M348.9 917.78H561.9M348.9 895.4H561.9" stroke="#dcdcdc" stroke-width="0.8" stroke-dasharray="2.1 1.9" fill="none"/>
<rect x="362.3" y="944.16" width="6.4" height="63.14" fill="#808080"/>
<rect x="358.5" y="940.16" width="6.4" height="67.14" fill="url(#gG)"/>
<rect x="371.81" y="968.78" width="6.4" height="38.52" fill="#808080"/>
<rect x="368.01" y="964.78" width="6.4" height="42.52" fill="url(#gY)"/>
<rect x="381.32" y="964.3" width="6.4" height="43" fill="#808080"/>
<rect x="377.52" y="960.3" width="6.4" height="47" fill="url(#gM)"/>
<rect x="395.83" y="966.54" width="6.4" height="40.76" fill="#808080"/>
<rect x="392.03" y="962.54" width="6.4" height="44.76" fill="url(#gG)"/>
<rect x="405.34" y="939.68" width="6.4" height="67.62" fill="#808080"/>
<rect x="401.54" y="935.68" width="6.4" height="71.62" fill="url(#gY)"/>
<rect x="414.85" y="953.11" width="6.4" height="54.19" fill="#808080"/>
<rect x="411.05" y="949.11" width="6.4" height="58.19" fill="url(#gM)"/>
<rect x="429.35" y="921.78" width="6.4" height="85.52" fill="#808080"/>
<rect x="425.55" y="917.78" width="6.4" height="89.52" fill="url(#gG)"/>
<rect x="438.86" y="939.68" width="6.4" height="67.62" fill="#808080"/>
<rect x="435.06" y="935.68" width="6.4" height="71.62" fill="url(#gY)"/>
<rect x="448.38" y="944.16" width="6.4" height="63.14" fill="#808080"/>
<rect x="444.58" y="940.16" width="6.4" height="67.14" fill="url(#gM)"/>
<rect x="462.88" y="899.4" width="6.4" height="107.9" fill="#808080"/>
<rect x="459.08" y="895.4" width="6.4" height="111.9" fill="url(#gG)"/>
<rect x="472.39" y="899.4" width="6.4" height="107.9" fill="#808080"/>
<rect x="468.59" y="895.4" width="6.4" height="111.9" fill="url(#gY)"/>
<rect x="481.9" y="939.68" width="6.4" height="67.62" fill="#808080"/>
<rect x="478.1" y="935.68" width="6.4" height="71.62" fill="url(#gM)"/>
<rect x="496.41" y="955.35" width="6.4" height="51.95" fill="#808080"/>
<rect x="492.61" y="951.35" width="6.4" height="55.95" fill="url(#gG)"/>
<rect x="505.92" y="919.54" width="6.4" height="87.76" fill="#808080"/>
<rect x="502.12" y="915.54" width="6.4" height="91.76" fill="url(#gY)"/>
<rect x="515.43" y="937.45" width="6.4" height="69.85" fill="#808080"/>
<rect x="511.63" y="933.45" width="6.4" height="73.85" fill="url(#gM)"/>
<rect x="529.93" y="926.26" width="6.4" height="81.04" fill="#808080"/>
<rect x="526.13" y="922.26" width="6.4" height="85.04" fill="url(#gG)"/>
<rect x="539.44" y="959.83" width="6.4" height="47.47" fill="#808080"/>
<rect x="535.64" y="955.83" width="6.4" height="51.47" fill="url(#gY)"/>
<rect x="548.96" y="930.73" width="6.4" height="76.57" fill="#808080"/>
<rect x="545.16" y="926.73" width="6.4" height="80.57" fill="url(#gM)"/>
<rect x="348.4" y="890.4" width="214" height="116.9" fill="none" stroke="#aaaaaa" stroke-width="1"/>
<path d="M344.4 890.4V1007.3M344.4 1007.3H342.2M344.4 984.92H342.2M344.4 962.54H342.2M344.4 940.16H342.2M344.4 917.78H342.2M344.4 895.4H342.2" stroke="#7a7a7a" stroke-width="1" fill="none"/>
<g font-family="DejaVu Sans, Liberation Sans, sans-serif" font-size="12" fill="#404040" text-anchor="end">
<text x="337.2" y="1012.08">0</text>
<text x="337.2" y="989.7">100</text>
<text x="337.2" y="967.32">200</text>
<text x="337.2" y="944.94">300</text>
<text x="337.2" y="922.56">400</text>
<text x="337.2" y="900.18">500</text>
</g>
<path d="M344.4 1011.5H566.6" stroke="#7a7a7a" stroke-width="1" fill="none"/>
<g font-family="Liberation Sans, Noto Sans CJK JP, sans-serif" font-size="11.6" fill="#404040" text-anchor="middle">
<text x="368.6" y="1026.6">１月</text>
<text x="403.4" y="1026.6">２月</text>
<text x="438.2" y="1026.6">３月</text>
<text x="473" y="1026.6">４月</text>
<text x="507.8" y="1026.6">５月</text>
<text x="542.6" y="1026.6">６月</text>
</g>
<rect x="305.9" y="1040.1" width="266.4" height="40.2" fill="#fff" stroke="#000" stroke-width="1.25"/>
<path d="M308.7 1049.8H323.3" stroke="#ff5555" stroke-width="0.9" opacity="1"/>
<rect x="312.7" y="1046.2" width="7.4" height="7.4" fill="#ff5555"/>
<text x="327.3" y="1054.2" font-family="Liberation Sans, Noto Sans CJK JP, sans-serif" font-size="11.5" letter-spacing="0.5" fill="#3a3a3a">東京支店</text>
<path d="M380.7 1049.8H395.3" stroke="#5555ff" stroke-width="0.9"/>
<circle cx="388.5" cy="1049.8" r="3.5" fill="#5555ff"/>
<text x="399.3" y="1054.2" font-family="Liberation Sans, Noto Sans CJK JP, sans-serif" font-size="11.5" letter-spacing="0.5" fill="#3a3a3a">大阪支店</text>
<rect x="453" y="1045.8" width="8" height="8" fill="#55ff55"/>
<text x="465.3" y="1054.2" font-family="Liberation Sans, Noto Sans CJK JP, sans-serif" font-size="11.5" letter-spacing="0.5" fill="#3a3a3a">東京支店</text>
<rect x="309" y="1065.8" width="8" height="8" fill="#ffff55"/>
<text x="321.3" y="1074.2" font-family="Liberation Sans, Noto Sans CJK JP, sans-serif" font-size="11.5" letter-spacing="0.5" fill="#3a3a3a">大阪支店</text>
<rect x="375" y="1065.8" width="8" height="8" fill="#ff55ff"/>
<text x="387.3" y="1074.2" font-family="Liberation Sans, Noto Sans CJK JP, sans-serif" font-size="11.5" letter-spacing="0.5" fill="#3a3a3a">千葉支店</text>
<rect x="594.9" y="752.9" width="268.5" height="328.4" fill="#f4f4f4" stroke="#d9d9d9" stroke-width="1"/>
<text x="728.9" y="739.4" text-anchor="middle" font-family="DejaVu Sans, Noto Sans CJK JP, sans-serif" font-size="12" font-weight="bold" fill="#262626" letter-spacing="0.33">9. 棒<tspan font-family="Liberation Sans, sans-serif">+</tspan>折れ線グラフ<tspan dx="0.3" font-family="Liberation Sans, sans-serif">(</tspan><tspan dx="1.9">二</tspan>重縦グラフ<tspan dx="1.1" font-family="Liberation Sans, sans-serif">)</tspan></text>
<rect x="650.4" y="760.4" width="175.6" height="248.6" fill="#fff" stroke="#aaaaaa" stroke-width="1"/>
<path d="M650.9 990.49H825.5M650.9 971.98H825.5M650.9 953.48H825.5M650.9 934.97H825.5M650.9 916.46H825.5M650.9 897.95H825.5M650.9 879.45H825.5M650.9 860.94H825.5M650.9 842.43H825.5M650.9 823.92H825.5M650.9 805.42H825.5M650.9 786.91H825.5M650.9 768.4H825.5" stroke="#dcdcdc" stroke-width="0.8" stroke-dasharray="2.1 1.9" fill="none"/>
<rect x="662.58" y="894.55" width="12.29" height="114.45" fill="#808080"/>
<rect x="658.78" y="890.55" width="12.29" height="118.45" fill="url(#gR)"/>
<rect x="678.77" y="879.74" width="12.29" height="129.26" fill="#808080"/>
<rect x="674.97" y="875.74" width="12.29" height="133.26" fill="url(#gR)"/>
<rect x="694.97" y="864.94" width="12.29" height="144.06" fill="#808080"/>
<rect x="691.17" y="860.94" width="12.29" height="148.06" fill="url(#gR)"/>
<rect x="711.16" y="857.54" width="12.29" height="151.46" fill="#808080"/>
<rect x="707.36" y="853.54" width="12.29" height="155.46" fill="url(#gR)"/>
<rect x="727.36" y="867.16" width="12.29" height="141.84" fill="#808080"/>
<rect x="723.56" y="863.16" width="12.29" height="145.84" fill="url(#gR)"/>
<rect x="743.55" y="853.83" width="12.29" height="155.17" fill="#808080"/>
<rect x="739.75" y="849.83" width="12.29" height="159.17" fill="url(#gR)"/>
<rect x="759.75" y="776.1" width="12.29" height="232.9" fill="#808080"/>
<rect x="755.95" y="772.1" width="12.29" height="236.9" fill="url(#gR)"/>
<rect x="775.94" y="927.12" width="12.29" height="81.88" fill="#808080"/>
<rect x="772.14" y="923.12" width="12.29" height="85.88" fill="url(#gR)"/>
<rect x="792.13" y="887.15" width="12.29" height="121.85" fill="#808080"/>
<rect x="788.33" y="883.15" width="12.29" height="125.85" fill="url(#gR)"/>
<rect x="808.33" y="827.92" width="12.29" height="181.08" fill="#808080"/>
<rect x="804.53" y="823.92" width="12.29" height="185.08" fill="url(#gR)"/>
<rect x="650.4" y="760.4" width="175.6" height="248.6" fill="none" stroke="#aaaaaa" stroke-width="1"/>
<polyline points="665.33,838.76 681.52,929.96 697.71,948.2 713.91,893.48 730.1,966.44 746.3,960.36 762.49,929.96 778.69,942.12 794.88,771.88 811.07,776.74" fill="none" stroke="#5555ff" stroke-width="0.7" opacity="0.25"/>
<rect x="661.83" y="835.26" width="7" height="7" fill="#5555ff"/>
<rect x="678.02" y="926.46" width="7" height="7" fill="#5555ff"/>
<rect x="694.21" y="944.7" width="7" height="7" fill="#5555ff"/>
<rect x="710.41" y="889.98" width="7" height="7" fill="#5555ff"/>
<rect x="726.6" y="962.94" width="7" height="7" fill="#5555ff"/>
<rect x="742.8" y="956.86" width="7" height="7" fill="#5555ff"/>
<rect x="758.99" y="926.46" width="7" height="7" fill="#5555ff"/>
<rect x="775.19" y="938.62" width="7" height="7" fill="#5555ff"/>
<rect x="791.38" y="768.38" width="7" height="7" fill="#5555ff"/>
<rect x="807.57" y="773.24" width="7" height="7" fill="#5555ff"/>
<path d="M646.6 760.4V1009M646.6 1009H644.4M646.6 990.49H644.4M646.6 971.98H644.4M646.6 953.48H644.4M646.6 934.97H644.4M646.6 916.46H644.4M646.6 897.95H644.4M646.6 879.45H644.4M646.6 860.94H644.4M646.6 842.43H644.4M646.6 823.92H644.4M646.6 805.42H644.4M646.6 786.91H644.4M646.6 768.4H644.4" stroke="#7a7a7a" stroke-width="1" fill="none"/>
<g font-family="DejaVu Sans, Liberation Sans, sans-serif" font-size="12" fill="#404040" text-anchor="end">
<text x="639.2" y="1013.78">0</text>
<text x="639.2" y="995.27">500</text>
<text x="639.2" y="976.76">1,000</text>
<text x="639.2" y="958.26">1,500</text>
<text x="639.2" y="939.75">2,000</text>
<text x="639.2" y="921.24">2,500</text>
<text x="639.2" y="902.73">3,000</text>
<text x="639.2" y="884.23">3,500</text>
<text x="639.2" y="865.72">4,000</text>
<text x="639.2" y="847.21">4,500</text>
<text x="639.2" y="828.7">5,000</text>
<text x="639.2" y="810.2">5,500</text>
<text x="639.2" y="791.69">6,000</text>
<text x="639.2" y="773.18">6,500</text>
</g>
<path d="M830.4 760.4V1009M830.4 1009H832.6M830.4 978.6H832.6M830.4 948.2H832.6M830.4 917.8H832.6M830.4 887.4H832.6M830.4 857H832.6M830.4 826.6H832.6M830.4 796.2H832.6M830.4 765.8H832.6" stroke="#7a7a7a" stroke-width="1" fill="none"/>
<g font-family="DejaVu Sans, Liberation Sans, sans-serif" font-size="10" fill="#404040" text-anchor="start">
<text x="836" y="1013.05">0</text>
<text x="836" y="982.65">50</text>
<text x="836" y="952.25">100</text>
<text x="836" y="921.85">150</text>
<text x="836" y="891.45">200</text>
<text x="836" y="861.05">250</text>
<text x="836" y="830.65">300</text>
<text x="836" y="800.25">350</text>
<text x="836" y="769.85">400</text>
</g>
<path d="M650.4 1013.5H827.4" stroke="#7a7a7a" stroke-width="1" fill="none"/>
<g font-family="DejaVu Sans, Liberation Sans, sans-serif" font-size="11.4" fill="#404040">
<text transform="translate(657.83 1025.5) rotate(45)" x="0" y="0">1999</text>
<text transform="translate(674.02 1025.5) rotate(45)" x="0" y="0">2000</text>
<text transform="translate(690.21 1025.5) rotate(45)" x="0" y="0">2001</text>
<text transform="translate(706.41 1025.5) rotate(45)" x="0" y="0">2002</text>
<text transform="translate(722.6 1025.5) rotate(45)" x="0" y="0">2003</text>
<text transform="translate(738.8 1025.5) rotate(45)" x="0" y="0">2004</text>
<text transform="translate(754.99 1025.5) rotate(45)" x="0" y="0">2005</text>
<text transform="translate(771.19 1025.5) rotate(45)" x="0" y="0">2006</text>
<text transform="translate(787.38 1025.5) rotate(45)" x="0" y="0">2007</text>
<text transform="translate(803.57 1025.5) rotate(45)" x="0" y="0">2008</text>
</g>
<rect x="665.6" y="1060.1" width="126.8" height="19.8" fill="#fff" stroke="#000" stroke-width="1.25"/>
<rect x="668.7" y="1065.8" width="8" height="8" fill="#ff5555"/>
<text x="681" y="1074.2" font-family="Liberation Sans, Noto Sans CJK JP, sans-serif" font-size="11.5" letter-spacing="0.5" fill="#3a3a3a">東京支店</text>
<path d="M734.4 1069.8H749" stroke="#5555ff" stroke-width="0.8" opacity="0.35"/>
<rect x="738.4" y="1066.2" width="7.4" height="7.4" fill="#5555ff"/>
<text x="753" y="1074.2" font-family="Liberation Sans, Noto Sans CJK JP, sans-serif" font-size="11.5" letter-spacing="0.5" fill="#3a3a3a">営業費</text>
<rect x="0.5" y="0.5" width="874" height="1097" fill="none" stroke="#000" stroke-width="1"/>
</svg></body></html>
